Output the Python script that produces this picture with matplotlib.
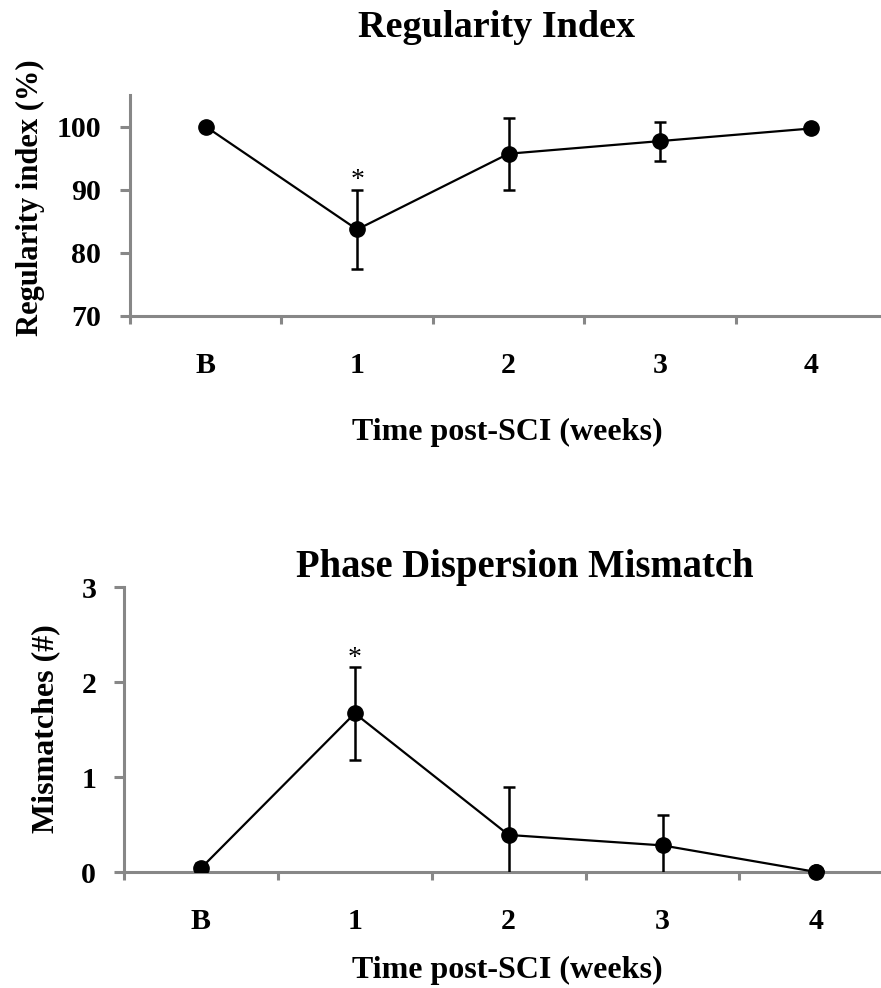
import matplotlib
matplotlib.use("Agg")
import matplotlib.pyplot as plt
import numpy as np

categories = ["B", "1", "2", "3", "4"]
reg_mean = [100.0, 83.7, 95.7, 97.7, 99.7]
reg_err = [0.3, 6.3, 5.7, 3.1, 0.4]
mis_mean = [0.04, 1.67, 0.39, 0.28, 0.0]
mis_err = [0.05, 0.49, 0.50, 0.32, 0.0]

plt.rcParams['font.family'] = ['Liberation Serif', 'DejaVu Serif']
plt.rcParams['font.weight'] = 'bold'

W, H = 881, 988
fig = plt.figure(figsize=(W/100, H/100), dpi=100)
spine_c = '#878787'
TICK_FS = 21.5
LABEL_FS = 23

def fx(px):
    return px / W

def fy(py):
    return 1 - py / H

def style(ax, yticks, xlim, ylim, ypad):
    x = np.arange(len(categories))
    ax.set_xlim(*xlim)
    ax.set_ylim(*ylim)
    for s in ['top', 'right']:
        ax.spines[s].set_visible(False)
    for s in ['left', 'bottom']:
        ax.spines[s].set_color(spine_c)
        ax.spines[s].set_linewidth(2.2)
    ax.set_yticks(yticks)
    ax.set_xticks(x)
    ax.set_xticklabels(categories)
    ax.set_xticks(np.arange(-0.5, len(categories) - 0.5, 1.0), minor=True)
    ax.tick_params(axis='x', which='major', length=0, pad=26, labelsize=TICK_FS)
    ax.tick_params(axis='x', which='minor', length=6, width=2.2, color=spine_c, direction='out')
    ax.tick_params(axis='y', which='major', length=7, width=2.2, color=spine_c, direction='out',
                   labelsize=TICK_FS, pad=ypad)
    for lab in ax.get_xticklabels() + ax.get_yticklabels():
        lab.set_fontweight('bold')

x = np.arange(len(categories))

# ---- top panel ----
ax1 = fig.add_axes([fx(130), fy(316), 1 - fx(130), (316 - 95) / H])
ax1.errorbar(x, reg_mean, yerr=reg_err, color='black', marker='o', markersize=11,
             linewidth=1.6, elinewidth=1.8, capsize=4.5, capthick=1.8, clip_on=False, zorder=3)
style(ax1, [70, 80, 90, 100], (-0.5, 4.46), (70, 105), ypad=14)
ax1.text(1, reg_mean[1] + reg_err[1] + 1.4, '*', ha='center', va='center', fontsize=20,
         fontweight='normal')
fig.text(fx(497), fy(37), 'Regularity Index', ha='center', va='baseline',
         fontsize=27.5, fontweight='bold')
fig.text(fx(507), fy(432), 'Time post-SCI (weeks)', ha='center', va='center',
         fontsize=LABEL_FS, fontweight='bold')
fig.text(fx(30), fy(198), 'Regularity index (%)', ha='center', va='center', rotation=90,
         fontsize=22, fontweight='bold')

# ---- bottom panel ----
ax2 = fig.add_axes([fx(124), fy(872), 1 - fx(124), (872 - 587) / H])
ax2.errorbar(x, mis_mean, yerr=mis_err, color='black', marker='o', markersize=11,
             linewidth=1.6, elinewidth=1.8, capsize=4.5, capthick=1.8, zorder=3)
ax2.plot(x[-1], mis_mean[-1], 'o', color='black', markersize=11, clip_on=False, zorder=4)
style(ax2, [0, 1, 2, 3], (-0.5, 4.42), (0, 3), ypad=13)
ax2.text(1, mis_mean[1] + mis_err[1] + 0.09, '*', ha='center', va='center', fontsize=20,
         fontweight='normal')
fig.text(fx(525), fy(577), 'Phase Dispersion Mismatch', ha='center', va='baseline',
         fontsize=27.8, fontweight='bold')
fig.text(fx(507), fy(970), 'Time post-SCI (weeks)', ha='center', va='center',
         fontsize=LABEL_FS, fontweight='bold')
fig.text(fx(46), fy(729), 'Mismatches (#)', ha='center', va='center', rotation=90,
         fontsize=LABEL_FS, fontweight='bold')

fig.savefig('out.png', dpi=100)
